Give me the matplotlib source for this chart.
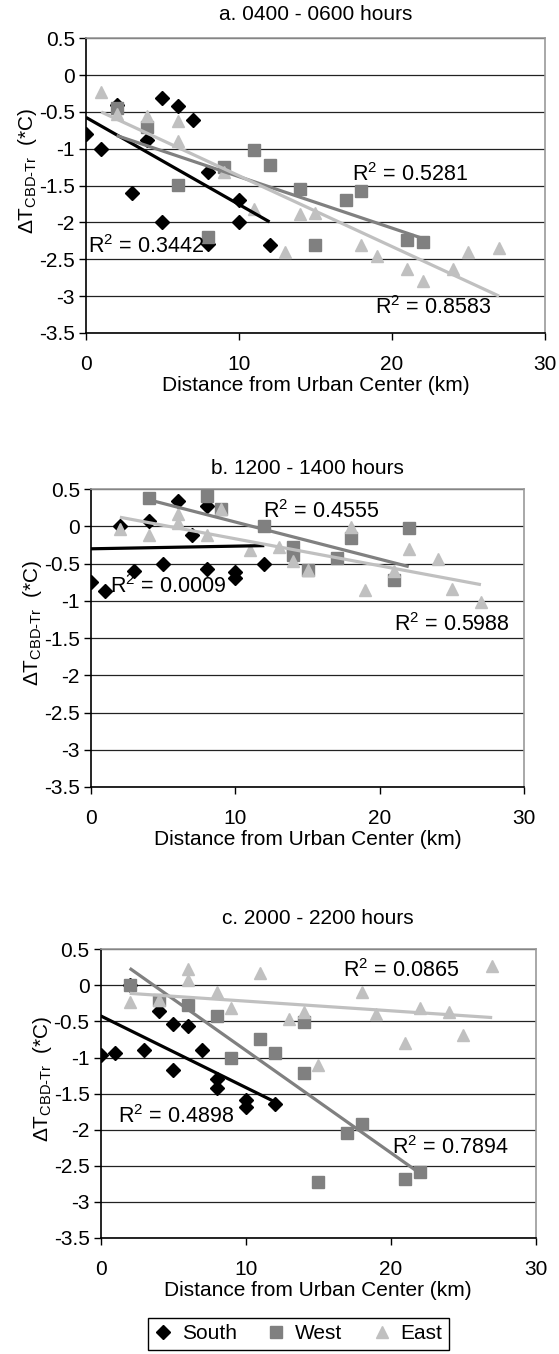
import numpy as np
import matplotlib.pyplot as plt

plt.rcParams['font.family'] = ['Liberation Sans', 'DejaVu Sans']
plt.rcParams['mathtext.fontset'] = 'custom'
plt.rcParams['mathtext.rm'] = 'Liberation Sans'
plt.rcParams['axes.unicode_minus'] = False

titles = ["a. 0400 - 0600 hours", "b. 1200 - 1400 hours", "c. 2000 - 2200 hours"]
series_names = ["South", "West", "East"]

# panel a (0400-0600)
a_south_x = [0, 1, 2, 3, 4, 5, 5, 6, 7, 8, 8, 10, 10, 12]
a_south_y = [-0.80, -1.00, -0.40, -1.60, -0.88, -0.31, -2.00, -0.42, -0.61, -1.32, -2.29, -1.69, -2.00, -2.30]
a_west_x = [2, 4, 6, 8, 9, 11, 12, 14, 15, 17, 18, 21, 22]
a_west_y = [-0.45, -0.70, -1.49, -2.20, -1.25, -1.02, -1.22, -1.54, -2.31, -1.69, -1.57, -2.24, -2.27]
a_east_x = [1, 2, 4, 6, 6, 9, 11, 13, 14, 15, 18, 19, 21, 22, 24, 25, 27]
a_east_y = [-0.23, -0.53, -0.55, -0.62, -0.89, -1.32, -1.82, -2.40, -1.88, -1.87, -2.31, -2.45, -2.63, -2.79, -2.63, -2.40, -2.35]

# panel b (1200-1400); one south reading sits above the 0.5 axis limit
b_south_x = [0, 1, 2, 3, 4, 5, 5, 6, 7, 8, 8, 10, 10, 12]
b_south_y = [-0.75, -0.87, 0.00, -0.60, 0.07, -0.51, 0.62, 0.34, -0.12, 0.28, -0.57, -0.61, -0.69, -0.51]
b_west_x = [4, 8, 9, 12, 14, 14, 15, 17, 18, 21, 22]
b_west_y = [0.38, 0.41, 0.24, 0.00, -0.28, -0.39, -0.58, -0.43, -0.16, -0.72, -0.02]
b_east_x = [2, 4, 6, 6, 8, 9, 11, 13, 14, 15, 18, 19, 21, 22, 24, 25, 27]
b_east_y = [-0.03, -0.12, 0.17, 0.04, -0.12, 0.24, -0.32, -0.27, -0.46, -0.58, -0.01, -0.86, -0.60, -0.30, -0.44, -0.84, -1.01]

# panel c (2000-2200)
c_south_x = [0, 1, 2, 3, 4, 5, 5, 6, 7, 8, 8, 10, 10, 12]
c_south_y = [-0.96, -0.94, 0.00, -0.90, -0.36, -0.53, -1.17, -0.56, -0.89, -1.30, -1.42, -1.59, -1.69, -1.64]
c_west_x = [2, 4, 6, 8, 9, 11, 12, 14, 14, 15, 17, 18, 21, 22]
c_west_y = [0.01, -0.20, -0.27, -0.43, -1.00, -0.75, -0.94, -0.51, -1.22, -2.73, -2.05, -1.92, -2.68, -2.58]
c_east_x = [2, 4, 6, 6, 8, 9, 11, 13, 14, 15, 18, 19, 21, 22, 24, 25, 27]
c_east_y = [-0.23, -0.20, 0.22, 0.07, -0.09, -0.31, 0.17, -0.46, -0.37, -1.11, -0.09, -0.39, -0.80, -0.32, -0.37, -0.69, 0.27]

r2_a = ["0.3442", "0.5281", "0.8583"]
r2_b = ["0.0009", "0.4555", "0.5988"]
r2_c = ["0.4898", "0.7894", "0.0865"]

x_ticks = [0, 10, 20, 30]
y_ticks = [0.5, 0, -0.5, -1, -1.5, -2, -2.5, -3, -3.5]
y_tick_labels = ["0.5", "0", "-0.5", "-1", "-1.5", "-2", "-2.5", "-3", "-3.5"]

panels = [
    (a_south_x, a_south_y, a_west_x, a_west_y, a_east_x, a_east_y, r2_a),
    (b_south_x, b_south_y, b_west_x, b_west_y, b_east_x, b_east_y, r2_b),
    (c_south_x, c_south_y, c_west_x, c_west_y, c_east_x, c_east_y, r2_c),
]

# layout (figure fractions) and R^2 label spots (data coords, left edge)
axes_rects = [
    [0.1538, 0.7541, 0.8211, 0.2177],
    [0.1628, 0.4188, 0.7751, 0.2199],
    [0.1801, 0.0857, 0.7782, 0.2132],
]
title_pads = [13, 11, 18]
r2_spots = [
    [(0.1, -2.33), (17.4, -1.35), (18.9, -3.16)],
    [(1.3, -0.81), (11.9, 0.20), (21.0, -1.32)],
    [(1.2, -1.82), (20.1, -2.25), (16.7, 0.21)],
]

colors = ["black", "#808080", "#c0c0c0"]
markers = [("D", 7.5), ("s", 8), ("^", 9)]

fig = plt.figure(figsize=(5.59, 13.54), dpi=100)
handles = []
for i, panel in enumerate(panels):
    ax = fig.add_axes(axes_rects[i])
    xs = [panel[0], panel[2], panel[4]]
    ys = [panel[1], panel[3], panel[5]]
    r2 = panel[6]

    for k in range(3):
        h, = ax.plot(xs[k], ys[k], linestyle="none", marker=markers[k][0],
                     ms=markers[k][1], color=colors[k], mec=colors[k], zorder=3,
                     label=series_names[k])
        if i == 2:
            handles.append(h)
    for k in range(3):
        slope, icpt = np.polyfit(xs[k], ys[k], 1)
        xl = np.array([min(xs[k]), max(xs[k])])
        ax.plot(xl, slope * xl + icpt, color=colors[k], lw=2.3, zorder=4,
                solid_capstyle="butt")
        tx, ty = r2_spots[i][k]
        ax.text(tx, ty, "R$^{2}$ = " + r2[k], fontsize=15.5, ha="left",
                va="center", zorder=5)

    ax.set_xlim(0, 30)
    ax.set_ylim(-3.5, 0.5)
    ax.set_xticks(x_ticks)
    ax.set_yticks(y_ticks)
    ax.set_yticklabels(y_tick_labels)
    ax.tick_params(axis="both", direction="out", length=5, width=1,
                   labelsize=15, color="black")
    ax.tick_params(axis="x", pad=11)
    ax.tick_params(axis="y", pad=3)
    ax.grid(True, axis="y", color="#222222", lw=0.9)
    ax.set_axisbelow(True)
    for s in ["top", "right"]:
        ax.spines[s].set_color("#999999")
        ax.spines[s].set_linewidth(1.2)
    for s in ["left", "bottom"]:
        ax.spines[s].set_color("black")
        ax.spines[s].set_linewidth(1.2)
    ax.set_title(titles[i], fontsize=15, pad=title_pads[i])
    ax.set_xlabel("Distance from Urban Center (km)", fontsize=15, labelpad=1)
    ax.set_ylabel("ΔT$_{\\mathregular{CBD‐Tr}}$  (*C)", fontsize=15, labelpad=0)
    ax.yaxis.label.set_y(0.55)

fig.legend(handles=handles, loc="center", bbox_to_anchor=(0.534, 0.0148),
           ncol=3, fontsize=15, frameon=True, fancybox=False, edgecolor="black",
           handlelength=0.8, handletextpad=0.5, columnspacing=1.5,
           borderpad=0.3, framealpha=1)

fig.savefig("out.png", dpi=100)
